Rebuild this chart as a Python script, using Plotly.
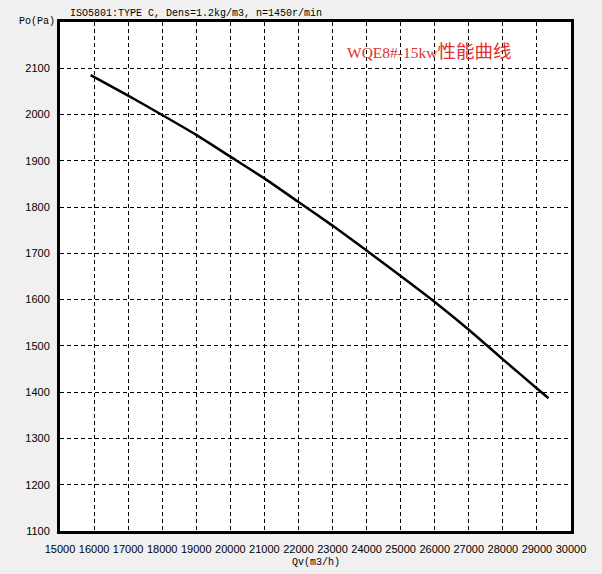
import plotly.graph_objects as go

# Data
qv = [15900, 17000, 18000, 19000, 20000, 21000, 22000, 23000, 24000, 25000, 26000, 27000, 28000, 29000, 29340]
po = [2085, 2041, 1999, 1956, 1909, 1862, 1811, 1760, 1706, 1651, 1595, 1535, 1471, 1408, 1387]

x_ticks = list(range(15000, 30001, 1000))
y_ticks = list(range(1100, 2101, 100))

header = "ISO5801:TYPE C, Dens=1.2kg/m3, n=1450r/min"
title_latin = "WQE8#-15kw"
title_cjk = "性能曲线"
x_title = "Qv(m3/h)"
y_title = "Po(Pa)"

fig = go.Figure()
fig.add_trace(go.Scatter(x=qv, y=po, mode="lines",
                         line=dict(color="black", width=2.5, shape="spline", smoothing=0.5),
                         showlegend=False, hoverinfo="skip"))

axis_common = dict(
    showline=True, linecolor="black", linewidth=3, mirror=True,
    showgrid=True, gridcolor="black", gridwidth=1, griddash="4px,3px",
    zeroline=False, ticks="",
    tickfont=dict(family="Liberation Sans, Arial, sans-serif", size=11, color="black"),
)

fig.update_xaxes(range=[15000, 30000], tickvals=x_ticks,
                 ticktext=[str(v) for v in x_ticks], ticklabelstandoff=6,
                 **axis_common)
fig.update_yaxes(range=[1100, 2200], tickvals=y_ticks,
                 ticktext=[str(v) for v in y_ticks], ticklabelstandoff=5,
                 **axis_common)

mono = "Liberation Mono, Courier New, monospace"
fig.add_annotation(text=header, xref="paper", yref="paper", x=(68-60)/511, y=1,
                   yshift=9, xanchor="left", yanchor="middle", showarrow=False,
                   font=dict(family=mono, size=10, color="black"))
fig.add_annotation(text=y_title, xref="paper", yref="paper", x=-(60-17)/511, y=1,
                   yshift=1, xanchor="left", yanchor="middle", showarrow=False,
                   font=dict(family=mono, size=10, color="black"))
fig.add_annotation(text=x_title, xref="paper", yref="paper", x=0.5, y=0,
                   yshift=-31, xanchor="center", yanchor="middle", showarrow=False,
                   font=dict(family=mono, size=10, color="black"))
red_text = (title_latin +
            "<span style='font-family:Noto Sans CJK SC;font-size:18.5px'>" +
            title_cjk + "</span>")
fig.add_annotation(text=red_text, xref="paper", yref="paper", x=(345-60)/511,
                   y=(531-50)/509, xanchor="left", yanchor="middle", showarrow=False,
                   font=dict(family="Liberation Serif, Times New Roman, serif",
                             size=15.5, color="#e03030"))

fig.update_layout(
    width=602, height=574,
    margin=dict(l=60, r=31, t=22, b=43),
    paper_bgcolor="#f0f0f0", plot_bgcolor="white",
)

fig.write_html("out.html",
               config={"displayModeBar": False},
               post_script="document.body.style.margin='0';"
                           "document.body.style.background='#f0f0f0';")
